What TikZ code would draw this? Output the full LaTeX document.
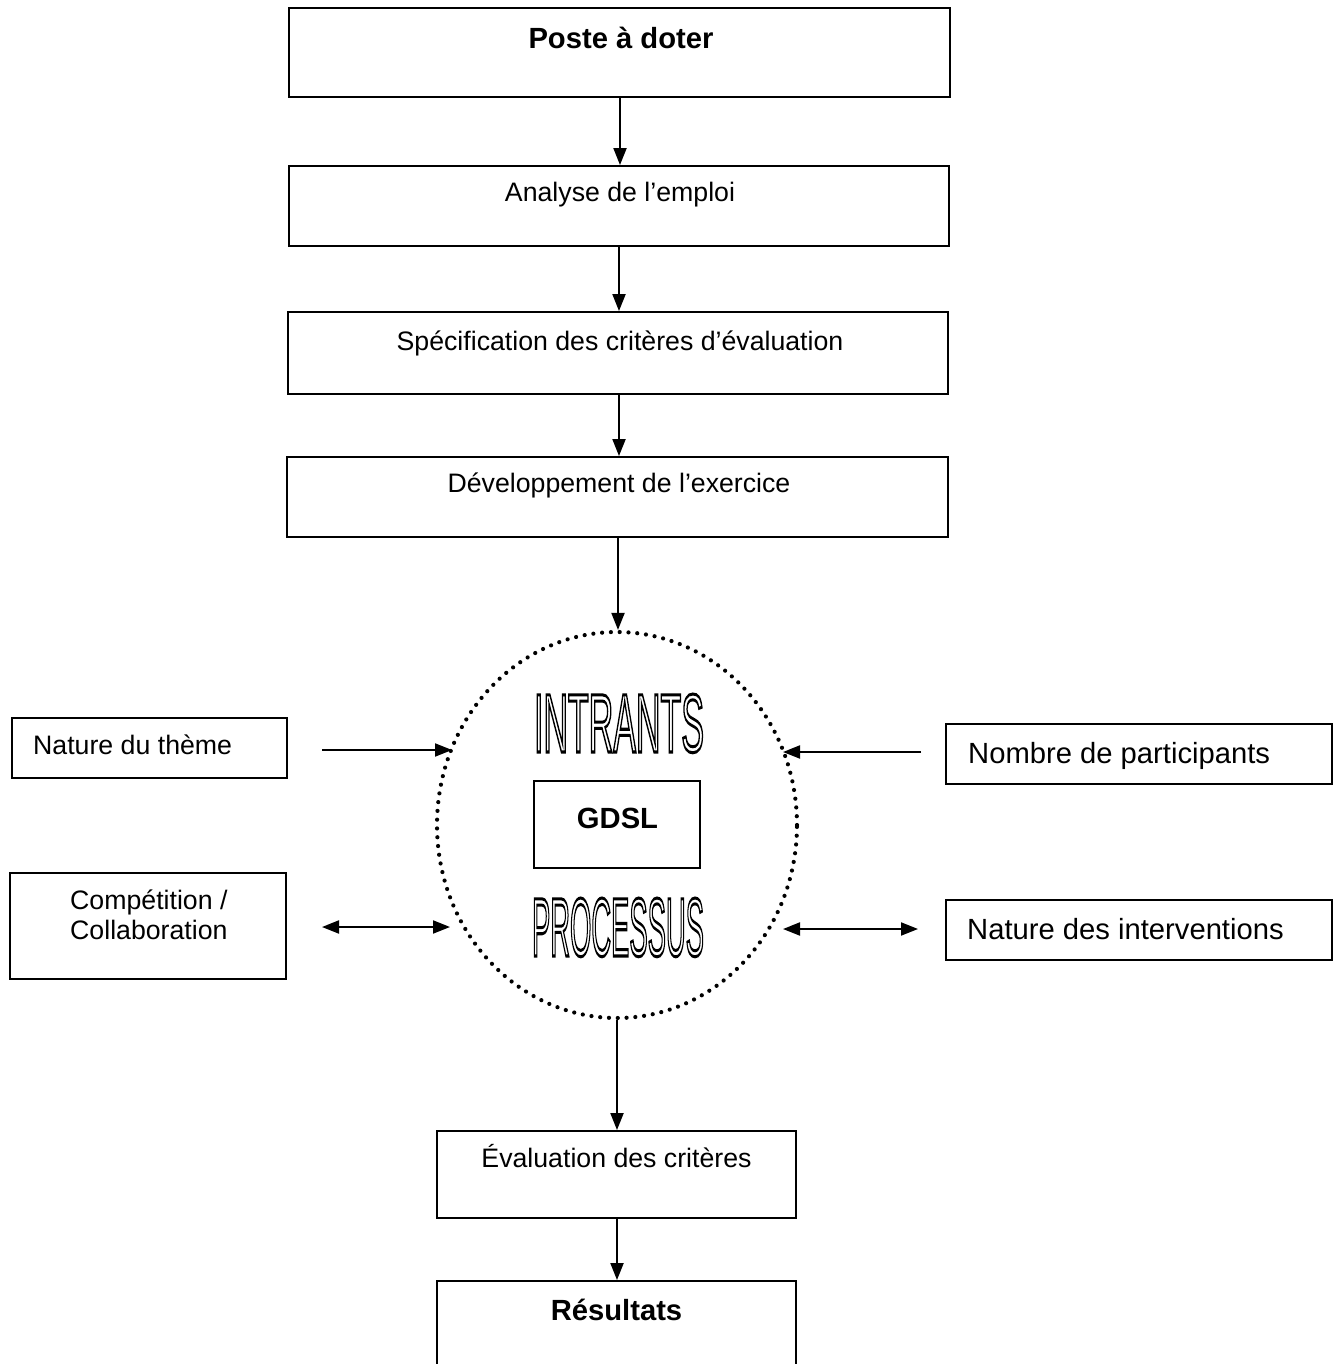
\documentclass[tikz,border=0pt]{standalone}
\usepackage{fontspec}
\setmainfont{Liberation Sans}
\usepackage{graphicx}
\usetikzlibrary{arrows.meta,shapes.geometric}
\newcommand{\outlinetext}[1]{\special{pdf:literal direct 1 Tr 2.2 w}#1\special{pdf:literal direct 0 Tr}}
\begin{document}
\begin{tikzpicture}[x=1pt,y=-1pt,
  box/.style={draw,line width=1.9pt,inner sep=0pt},
  arr/.style={line width=2pt,-{Triangle[length=17pt,width=13pt]}},
  darr/.style={line width=2pt,{Triangle[length=17pt,width=13pt]}-{Triangle[length=17pt,width=13pt]}},
  lbl/.style={font=\fontsize{26.7}{31}\selectfont,inner sep=0pt},
  big/.style={font=\fontsize{29.2}{33}\selectfont,inner sep=0pt},
  bigb/.style={font=\fontsize{29.2}{33}\selectfont\bfseries,inner sep=0pt},
  dotring/.style={draw,ellipse,line width=4.2pt,dash pattern=on 0pt off 8.8pt,line cap=round,inner sep=0pt},
  outl/.style={inner sep=0pt,font=\fontsize{60}{60}\selectfont}]
\clip (0,0) rectangle (1340,1364);
\fill[white] (0,0) rectangle (1340,1364);

% main column boxes
\node[box,minimum width=661pt,minimum height=89pt] (poste) at (619.5,52.5) {};
\node[box,minimum width=660pt,minimum height=80pt] (analyse) at (619,206) {};
\node[box,minimum width=660pt,minimum height=82pt] (spec) at (618,353) {};
\node[box,minimum width=661pt,minimum height=80pt] (dev) at (617.5,497) {};
\node[dotring,minimum width=360pt,minimum height=386pt] (circ) at (617,825) {};
\node[box,minimum width=166pt,minimum height=87pt] (gdsl) at (617,824.5) {};
\node[box,minimum width=359pt,minimum height=87pt] (eval) at (616.5,1174.5) {};
\node[box,minimum width=359pt,minimum height=130pt] (res) at (616.5,1346) {};

% side boxes
\node[box,minimum width=275pt,minimum height=60pt] (theme) at (149.5,748) {};
\node[box,minimum width=276pt,minimum height=106pt] (comp) at (148,926) {};
\node[box,minimum width=386pt,minimum height=60pt] (nombre) at (1139,754) {};
\node[box,minimum width=386pt,minimum height=60pt] (interv) at (1139,930) {};

% texts
\node[bigb,anchor=base] (tposte) at (621,48.5) {Poste à doter};
\node[lbl,anchor=base] (tanalyse) at (620,201.5) {Analyse de l’emploi};
\node[lbl,anchor=base] (tspec) at (620,350.5) {Spécification des critères d’évaluation};
\node[lbl,anchor=base] (tdev) at (619,492.5) {Développement de l’exercice};
\node[bigb,anchor=base] (tgdsl) at (617.5,828.5) {GDSL};
\node[lbl,anchor=base] (teval) at (616.5,1167) {Évaluation des critères};
\node[bigb,anchor=base] (tres) at (616.5,1320) {Résultats};
\node[lbl,anchor=base west] (ttheme) at (33,754.5) {Nature du thème};
\node[lbl,anchor=base west] (tcomp1) at (70,909.5) {Compétition /};
\node[lbl,anchor=base west] (tcomp2) at (70,939.5) {Collaboration};
\node[big,anchor=base west] (tnombre) at (968,763.5) {Nombre de participants};
\node[big,anchor=base west] (tinterv) at (967,939.5) {Nature des interventions};

% outlined words
\node[outl,anchor=base] (intr) at (619,752) {\resizebox{170pt}{58pt}{\outlinetext{INTRANTS}}};
\node[outl,anchor=base] (proc) at (618,956) {\resizebox{172pt}{58pt}{\outlinetext{PROCESSUS}}};

% vertical arrows
\draw[arr] (poste.south -| 620,0) -- (analyse.north -| 620,0);
\draw[arr] (analyse.south -| 619,0) -- (spec.north -| 619,0);
\draw[arr] (spec.south -| 619,0) -- (dev.north -| 619,0);
\draw[arr] (dev.south -| 618,0) -- (circ.north -| 618,0);
\draw[arr] (circ.south -| 617,0) -- (eval.north -| 617,0);
\draw[arr] (eval.south -| 617,0) -- (res.north -| 617,0);

% side arrows
\coordinate (t1) at (322,750);
\coordinate (h1) at (452,750);
\coordinate (t2) at (921,752);
\coordinate (h2) at (783,752);
\coordinate (t3) at (322,927);
\coordinate (h3) at (450,927);
\coordinate (t4) at (783,929);
\coordinate (h4) at (918,929);
\draw[arr] (t1) -- (h1);
\draw[arr] (t2) -- (h2);
\draw[darr] (t3) -- (h3);
\draw[darr] (t4) -- (h4);
\end{tikzpicture}
\end{document}
